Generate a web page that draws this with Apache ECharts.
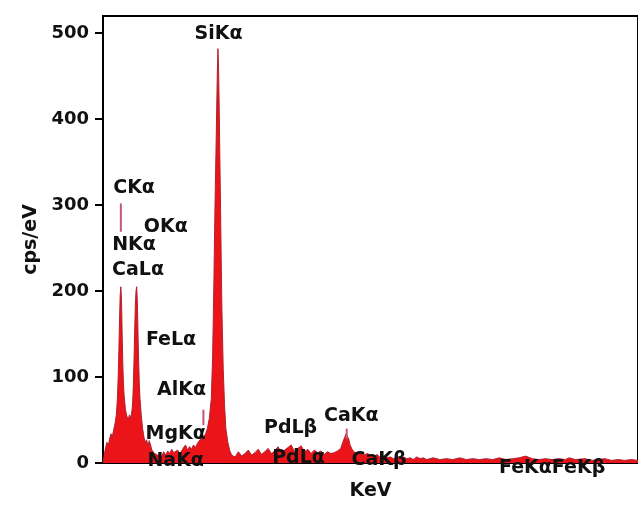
<!DOCTYPE html>
<html>
<head>
<meta charset="utf-8">
<script src="https://cdn.jsdelivr.net/npm/echarts@6/dist/echarts.min.js"></script>
<style>html,body{margin:0;padding:0;background:#fff;}#c{width:638px;height:522px;}</style>
</head>
<body>
<div id="c"></div>
<script>
// Energy (keV) and counts (cps/eV)
const energy = [0.00,0.02,0.04,0.06,0.08,0.10,0.12,0.14,0.16,0.18,0.20,0.21,0.22,0.23,0.24,0.25,0.26,0.27,0.28,0.29,0.30,0.31,0.32,0.34,0.36,0.38,0.40,0.42,0.44,0.45,0.46,0.47,0.48,0.49,0.50,0.51,0.52,0.53,0.54,0.55,0.56,0.58,0.60,0.62,0.64,0.66,0.68,0.70,0.72,0.74,0.76,0.78,0.80,0.83,0.86,0.89,0.92,0.95,0.98,1.01,1.04,1.07,1.10,1.13,1.16,1.19,1.22,1.25,1.28,1.31,1.34,1.37,1.40,1.43,1.46,1.49,1.52,1.55,1.58,1.61,1.64,1.66,1.68,1.69,1.70,1.71,1.72,1.73,1.74,1.75,1.76,1.77,1.78,1.79,1.80,1.82,1.84,1.86,1.89,1.92,1.95,1.98,2.00,
2.05,2.10,2.15,2.20,2.25,2.30,2.35,2.40,2.45,2.50,2.55,2.60,2.65,2.70,2.75,2.80,2.85,2.90,2.95,3.00,3.05,3.10,3.15,3.20,3.25,3.30,3.35,3.40,3.45,3.50,
3.55,3.60,3.63,3.66,3.68,3.69,3.70,3.72,3.74,3.77,3.80,3.85,3.90,3.95,4.00,4.05,4.10,4.15,4.20,4.25,4.30,4.35,4.40,4.45,4.50,4.55,4.60,4.65,4.70,4.75,4.80,4.85,4.90,4.95,5.00,5.10,5.20,5.30,5.40,5.50,5.60,5.70,5.80,5.90,6.00,6.10,6.20,6.30,6.40,6.50,6.60,6.70,6.80,6.90,7.00,7.06,7.15,7.30,7.40,7.50,7.60,7.70,7.80,7.90,8.00,8.10];
const counts = [0,10,18,24,20,28,34,30,38,45,55,65,78,100,130,165,195,205,190,150,115,92,78,62,55,50,56,52,62,72,92,120,155,185,200,205,188,150,118,92,75,55,40,30,24,27,20,26,21,15,17,11,13,9,11,8,13,9,14,11,16,12,10,15,11,14,18,21,15,19,16,21,18,23,25,29,27,33,40,52,75,125,215,270,320,360,405,450,482,458,410,350,295,235,180,110,68,40,24,14,9,11,7,
13,8,11,15,9,12,16,10,13,17,11,14,19,12,15,18,21,13,17,20,13,16,11,15,12,14,10,13,11,12,
14,17,24,30,34,36,34,28,21,16,13,10,12,9,11,9,7,10,6,8,6,7,5,8,6,7,5,6,4,7,5,6,4,5,6,4,5,4,6,4,5,4,5,4,6,4,5,6,8,5,4,5,4,5,4,6,4,5,3,4,5,3,4,3,4,3];

// Peak labels: name, energy (keV), level (cps/eV)
const labelNames = ['SiKα','CKα','OKα','NKα','CaLα','FeLα','AlKα','MgKα','NaKα','PdLβ','CaKα','PdLα','CaKβ','FeKαFeKβ'];
const labelEnergy = [1.75,0.47,0.95,0.47,0.53,1.03,1.19,1.10,1.10,2.84,3.76,2.96,4.18,6.80];
const labelLevel = [499,320,275,254,224,143,85,34,2,41,55,6,3,-6];

// Element marker lines: energy, from, to
const markerEnergy = [0.27,1.52,3.69];
const markerFrom = [269,44,28];
const markerTo = [302,62,40];

const yTicks = [0,100,200,300,400,500];

const chart = echarts.init(document.getElementById('c'));
const FONT = 'DejaVu Sans';
chart.setOption({
  animation:false,
  backgroundColor:'#fff',
  grid:{left:103,right:-2,top:16,bottom:59,show:true,borderColor:'#000',borderWidth:2,backgroundColor:'transparent'},
  xAxis:{type:'value',min:0,max:8.1,
    name:'KeV',nameLocation:'middle',nameGap:19,
    nameTextStyle:{fontFamily:FONT,fontWeight:'bold',fontSize:19,color:'#111'},
    axisLine:{show:true,lineStyle:{color:'#000',width:2}},
    axisTick:{show:false},axisLabel:{show:false},splitLine:{show:false}},
  yAxis:{type:'value',min:0,max:520,interval:100,
    name:'cps/eV',nameLocation:'middle',nameGap:62,nameRotate:90,
    nameTextStyle:{fontFamily:FONT,fontWeight:'bold',fontSize:19,color:'#111'},
    axisLine:{show:true,lineStyle:{color:'#000',width:2}},
    axisTick:{show:true,length:8,lineStyle:{color:'#000',width:2},customValues:yTicks},
    axisLabel:{customValues:yTicks,margin:14,fontFamily:FONT,fontWeight:'bold',fontSize:18,color:'#111'},
    splitLine:{show:false}},
  series:[
    {type:'line',data:energy.map((e,i)=>[e,counts[i]]),symbol:'none',
     lineStyle:{color:'#b3202e',width:1},
     areaStyle:{color:'#ea1419',opacity:1},z:2},
    {type:'custom',z:3,
     renderItem:function(params,api){
       const p1=api.coord([api.value(0),api.value(1)]);
       const p2=api.coord([api.value(0),api.value(2)]);
       return {type:'line',shape:{x1:p1[0],y1:p1[1],x2:p2[0],y2:p2[1]},style:{stroke:'#c05a72',lineWidth:2}};
     },
     data:markerEnergy.map((e,i)=>[e,markerFrom[i],markerTo[i]])},
    {type:'scatter',symbolSize:0,clip:false,z:5,itemStyle:{opacity:1},
     data:labelNames.map((n,i)=>({name:n,value:[labelEnergy[i],labelLevel[i]]})),
     label:{show:true,position:'inside',formatter:'{b}',fontFamily:FONT,fontWeight:'bold',fontSize:19,color:'#111',opacity:1}}
  ]
});
</script>
</body>
</html>
